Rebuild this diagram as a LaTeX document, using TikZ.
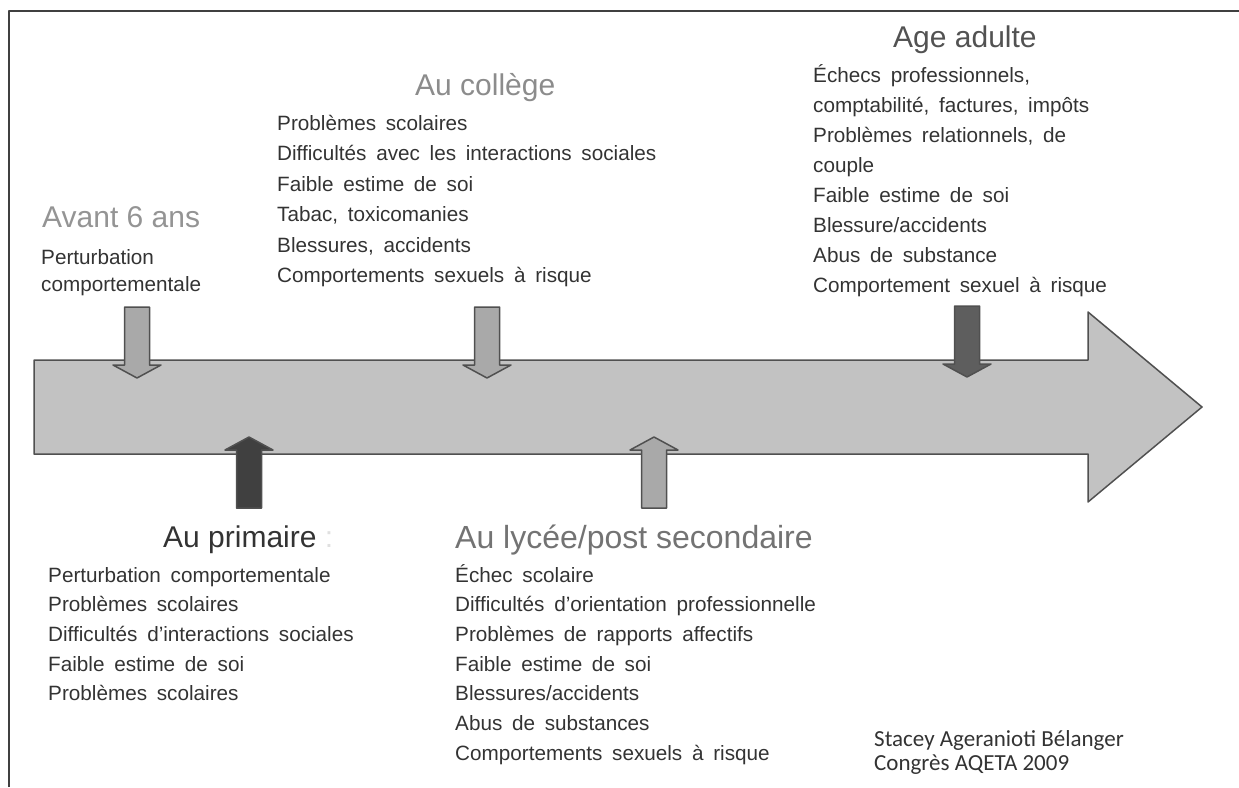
\documentclass[tikz,border=0pt]{standalone}
\usepackage{fontspec}
\setmainfont{Liberation Sans}
\newfontfamily\sigfont{Carlito}
\usetikzlibrary{calc}
\definecolor{bodygray}{HTML}{333333}
\definecolor{edgegray}{HTML}{505050}
\definecolor{bigarrow}{HTML}{C2C2C2}
\definecolor{lightarrow}{HTML}{A9A9A9}
\definecolor{darkarrow}{HTML}{404040}
\definecolor{midarrow}{HTML}{5E5E5E}
\newcommand\bodyfont{\fontsize{20.7}{30}\selectfont\spaceskip=0.47em plus 0.1em minus 0.05em\relax}
\newcommand\headfont{\fontsize{30}{36}\selectfont}
\tikzset{
    pics/blockdown/.style = {
        code = {%
        \coordinate (-top) at (0,0);
        \coordinate (-tip) at (0,71);
        \draw[pic actions] (-12.5,0) -- (12.5,0) -- (12.5,58) -- (24,58)
            -- (0,71) -- (-24,58) -- (-12.5,58) -- cycle;
        }
    },
    body/.style = {anchor=base west, inner sep=0pt, text=bodygray, font=\bodyfont},
    head/.style = {anchor=base west, inner sep=0pt, font=\headfont},
    sig/.style = {anchor=base west, inner sep=0pt, text=bodygray, font=\sigfont\fontsize{23}{24}\selectfont},
}

\begin{document}
\begin{tikzpicture}[x=1pt, y=-1pt, line join=round]
\useasboundingbox (0,0) rectangle (1239,787);
\draw[line width=2pt, color=darkarrow] (9,787) -- (9,11) -- (1239,11);

% time line
\draw[fill=bigarrow, draw=edgegray, line width=1.5pt]
    (34,360) -- (1088,360) -- (1088,312) -- (1202,407) -- (1088,502)
    -- (1088,454) -- (34,454) -- cycle;

\pic[fill=lightarrow, draw=edgegray, line width=1.5pt] (a6) at (137,307) {blockdown};
\pic[fill=lightarrow, draw=edgegray, line width=1.5pt] (col) at (487,307) {blockdown};
\pic[fill=midarrow, draw=edgegray, line width=1.5pt] (adu) at (967,306) {blockdown};
\pic[fill=darkarrow, draw=edgegray, line width=1.5pt, rotate=180] (pri) at (249,508) {blockdown};
\pic[fill=lightarrow, draw=edgegray, line width=1.5pt, rotate=180] (lyc) at (654,508) {blockdown};

% avant 6 ans
\node[head, text=black!42] (avant) at (42,227) {Avant 6 ans};
\node[body] (avant-1) at (41,264) {Perturbation};
\node[body] (avant-2) at (41,291) {comportementale};

% college
\node[head, text=black!45] (college) at (415,95) {Au collège};
\foreach \txt [count=\i] in {Problèmes scolaires, Difficultés avec les interactions sociales,
    Faible estime de soi, {Tabac, toxicomanies}, {Blessures, accidents}, Comportements sexuels à risque}
  \node[body] (college-\i) at (277,100+30.4*\i) {\txt};

% adulte
\node[head, text=black!68] (adulte) at (893,47) {Age adulte};
\foreach \txt [count=\i] in {{Échecs professionnels,}, {comptabilité, factures, impôts},
    {Problèmes relationnels, de}, couple, Faible estime de soi, Blessure/accidents,
    Abus de substance, Comportement sexuel à risque}
  \node[body] (adulte-\i) at (813,52+30*\i) {\txt};

% primaire
\node[head, text=black!80] (primaire) at (163,547) {Au primaire \textcolor{black!12}{:}};
\foreach \txt [count=\i] in {Perturbation comportementale, Problèmes scolaires,
    Difficultés d’interactions sociales, Faible estime de soi, Problèmes scolaires}
  \node[body] (primaire-\i) at (48,552.3+29.7*\i) {\txt};

% lycee
\node[head, text=black!55, font=\fontsize{32}{36}\selectfont] (lycee) at (455,548) {Au lycée/post secondaire};
\foreach \txt [count=\i] in {Échec scolaire, Difficultés d’orientation professionnelle,
    Problèmes de rapports affectifs, Faible estime de soi, Blessures/accidents,
    Abus de substances, Comportements sexuels à risque}
  \node[body] (lycee-\i) at (455,552.3+29.7*\i) {\txt};

\node[sig] (auteur) at (874,746) {Stacey Ageranioti Bélanger};
\node[sig] (congres) at (874,770) {Congrès AQETA 2009};
\end{tikzpicture}
\end{document}
